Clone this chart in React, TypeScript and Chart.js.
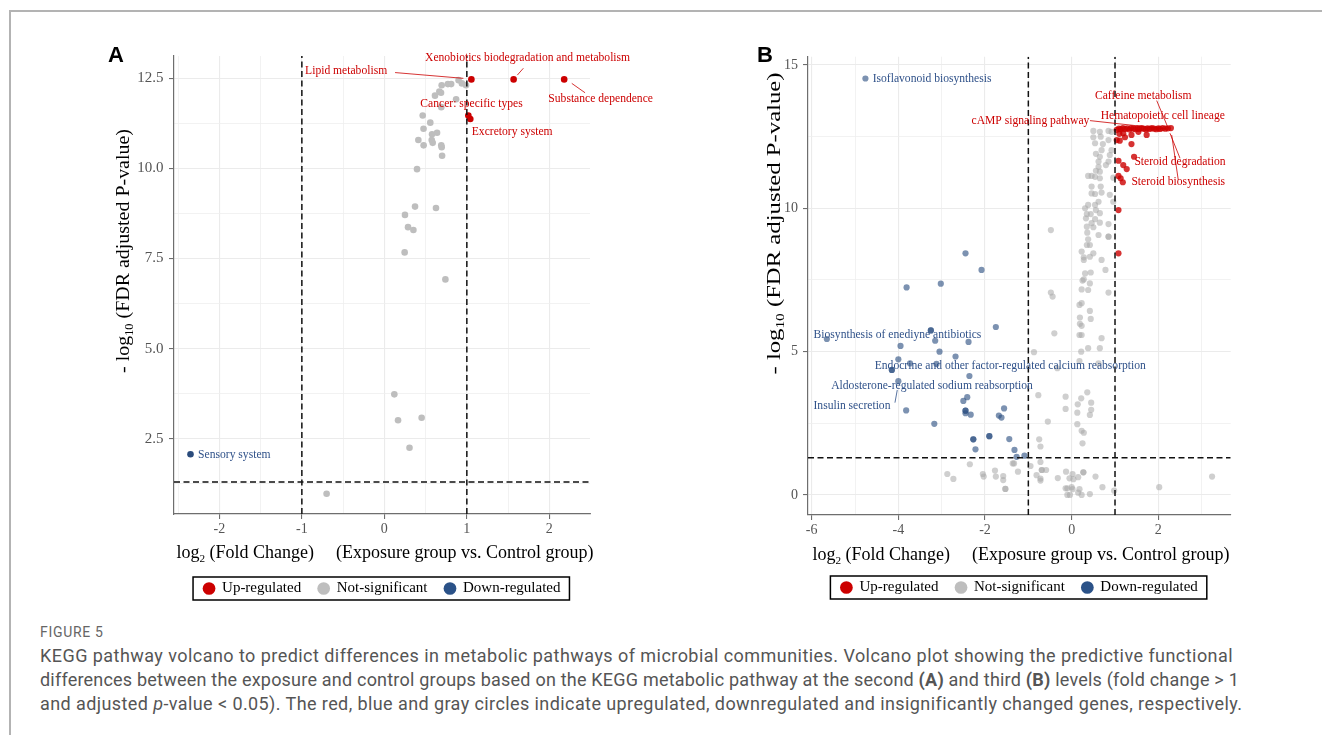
import React, { useEffect, useRef } from "react";
import { Chart, registerables } from "chart.js";

Chart.register(...registerables);

// ---------------- shared ----------------
const FC_THRESHOLDS = [-1, 1];
const P_THRESHOLD = 1.301; // -log10(0.05)
const LEGEND_LABELS = ["Up-regulated", "Not-significant", "Down-regulated"];
const LEGEND_COLORS = ["#cc0000", "#bebebe", "#2b5288"];

// ---------------- Panel A (KEGG level 2) ----------------
const A_UP_X = [1.055, 1.567, 2.18, 1.018, 1.042];
const A_UP_Y = [12.47, 12.47, 12.47, 11.47, 11.37];
const A_NS_X = [0.9, 0.94, 0.99, 0.695, 0.77, 0.81, 0.667, 0.614, 0.687, 0.87, 0.69, 0.465, 0.557, 0.475, 0.578, 0.639, 0.412, 0.574, 0.586, 0.476, 0.69, 0.695, 0.7, 0.396, 0.372, 0.626, 0.25, 0.287, 0.352, 0.246, 0.74, 0.121, 0.166, 0.452, 0.305, -0.7];
const A_NS_Y = [12.45, 12.36, 12.31, 12.31, 12.34, 12.34, 12.13, 12.02, 12.1, 11.92, 11.7, 11.47, 11.27, 11.1, 10.95, 10.99, 10.79, 10.79, 10.71, 10.64, 10.64, 10.59, 10.35, 9.98, 8.94, 8.9, 8.71, 8.37, 8.29, 7.67, 6.92, 3.73, 3.01, 3.08, 2.25, 0.97];
const A_DOWN_X = [-2.35];
const A_DOWN_Y = [2.07];

const A_X_RANGE = [-2.55, 2.493];
const A_Y_RANGE = [0.41, 13.12];
const A_X_GRID = [-2.5, -2, -1.5, -1, -0.5, 0, 0.5, 1, 1.5, 2];
const A_X_LABELS = [-2, -1, 0, 1, 2];
const A_Y_GRID = [1.25, 2.5, 3.75, 5, 6.25, 7.5, 8.75, 10, 11.25, 12.5];
const A_Y_LABELS = [2.5, 5, 7.5, 10, 12.5];

const A_LABELS = [
  { text: "Xenobiotics biodegradation and metabolism", x: 1.736, y: 13.06, align: "center", kind: "up", seg: [1.685, 12.78, 1.612, 12.59] },
  { text: "Lipid metabolism", x: -0.961, y: 12.71, align: "left", kind: "up", seg: [0.13, 12.66, 0.958, 12.5] },
  { text: "Substance dependence", x: 1.988, y: 11.93, align: "left", kind: "up", seg: [2.272, 12.36, 2.433, 12.1] },
  { text: "Cancer: specific types", x: 1.057, y: 11.8, align: "center", kind: "up" },
  { text: "Excretory system", x: 1.06, y: 11.02, align: "left", kind: "up" },
  { text: "Sensory system", x: -2.258, y: 2.04, align: "left", kind: "down" },
];

// ---------------- Panel B (KEGG level 3) ----------------
const B_UP_X = [1.04, 1.09, 1.13, 1.18, 1.23, 1.28, 1.33, 1.37, 1.42, 1.47, 1.52, 1.56, 1.61, 1.66, 1.71, 1.75, 1.8, 1.85, 1.9, 1.95, 2.0, 2.04, 2.1, 2.16, 2.22, 2.29,
  1.1, 1.19, 1.38, 1.54, 1.73, 1.04, 1.11, 1.23, 1.38, 1.08, 1.19, 1.27, 1.44, 1.08, 1.13, 1.18, 1.08, 1.08];
const B_UP_Y = [12.74, 12.78, 12.76, 12.8, 12.77, 12.79, 12.75, 12.8, 12.78, 12.76, 12.79, 12.77, 12.8, 12.78, 12.75, 12.79, 12.77, 12.8, 12.78, 12.76, 12.79, 12.77, 12.8, 12.78, 12.79, 12.8,
  12.6, 12.62, 12.56, 12.67, 12.56, 12.38, 12.36, 12.48, 12.24, 11.66, 11.51, 11.37, 11.8, 11.13, 11.05, 10.91, 9.94, 8.43];
const B_NS_X = [0.5, 0.65, 0.85, 0.92, 0.5, 0.67, 0.85, 0.54, 0.72, 0.69, 0.92, 0.56, 0.65, 0.88, 0.62, 0.85, 0.62, 0.79, 0.56, 0.65,
  0.38, 0.46, 0.54, 0.65, 0.96, 0.46, 0.67, 0.46, 0.54, 0.69, 0.88, 0.62, 0.54, 0.38, 0.96, 0.31, 0.56, 0.35, 0.44, 0.65,
  0.33, 0.54, 0.46, 0.65, 0.85, 0.35, 0.5, 0.36, 0.62, 0.85, 0.85, -0.48, 0.38, 0.35, 0.42, 0.23, 0.5, 0.28, 0.28, 0.42,
  0.69, 0.78, 0.44, 0.31, 0.25, 0.28, 0.42, 0.23, 0.38, -0.48, -0.44, 0.85, 0.23, 0.18, 0.42, 0.19, 0.44, 0.19, 0.23, -0.4,
  0.18, 0.23, 0.69, -0.87, 0.38, 0.65, 0.22, 0.18, 0.62, -0.33,
  -0.77, -0.14, 0.22, 0.36, 0.14, 0.45, -0.14, 0.13, 0.45, 0.42, -0.55, 0.13, 0.23, 0.28, 0.25, -0.75, -0.72, -2.35, -2.87, -2.73,
  -2.05, -2.03, -1.77, -1.75, -1.58, -1.58, -1.53, -1.53, -1.36, -1.33, -1.24, -0.95, -0.72, -0.69, -0.69, -0.59, -0.81, -0.72, -0.72, -0.32,
  -0.13, -0.05, 0.02, 0.04, 0.15, 0.27, 0.27, 0.55, -0.14, -0.1, 0.0, 0.02, 0.18, -0.1, -0.04, 0.15, 0.23, 0.42, 0.71, 0.98, 2.02, 3.24];
const B_NS_Y = [12.7, 12.67, 12.7, 12.67, 12.48, 12.5, 12.38, 12.27, 12.24, 12.03, 12.03, 11.9, 11.8, 11.86, 11.63, 11.63, 11.45, 11.51, 11.31, 11.28,
  11.13, 11.13, 11.1, 11.05, 11.07, 10.76, 10.76, 10.52, 10.5, 10.55, 10.47, 10.23, 10.12, 10.12, 10.23, 10.0, 9.94, 9.8, 9.8, 9.83,
  9.65, 9.62, 9.48, 9.5, 9.45, 9.36, 9.34, 9.15, 9.07, 9.01, 9.01, 9.24, 8.92, 8.72, 8.72, 8.49, 8.43, 8.29, 8.2, 8.31,
  8.2, 7.85, 7.76, 7.73, 7.48, 7.52, 7.38, 7.17, 7.15, 7.06, 6.92, 7.06, 6.69, 6.63, 6.42, 6.19, 6.14, 5.97, 5.9, 5.64,
  5.58, 5.58, 5.47, 4.98, 5.12, 5.12, 5.0, 4.67, 4.59, 4.42,
  3.48, 3.43, 3.37, 3.58, 3.16, 3.22, 3.0, 2.87, 2.97, 2.79, 2.56, 2.47, 2.24, 2.17, 1.8, 1.94, 1.69, 1.07, 0.73, 0.56,
  0.73, 0.64, 0.85, 0.64, 0.66, 0.52, 0.21, 0.21, 1.1, 1.1, 0.81, 1.01, 1.15, 0.87, 0.87, 0.87, 0.69, 0.57, 0.5, 0.59,
  0.81, 0.58, 0.73, 0.55, 0.62, 0.79, 0.79, 0.64, 0.23, 0.23, 0.27, 0.2, 0.2, 0.0, 0.0, 0.08, 0.0, 0.03, 0.27, 0.15, 0.27, 0.64];
const B_DOWN_X = [-4.76, -2.45, -2.08, -3.81, -3.02, -1.75, -3.25, -3.25, -5.65, -3.95, -3.15, -2.38, -3.05, -2.68, -4.0, -3.73, -3.12, -4.15, -4.15, -2.36,
  -4.0, -3.82, -2.5, -2.41, -2.45, -2.45, -2.45, -2.33, -1.56, -1.68, -1.62, -3.17, -2.27, -2.27, -1.9, -1.9, -1.44, -2.22, -1.32, -1.27, -1.09];
const B_DOWN_Y = [14.53, 8.43, 7.85, 7.24, 7.37, 5.86, 5.74, 5.74, 5.44, 5.2, 5.38, 5.34, 5.0, 4.83, 4.73, 4.59, 4.57, 4.36, 4.36, 4.15,
  3.97, 2.95, 3.28, 3.41, 2.94, 2.94, 2.85, 2.8, 3.02, 2.77, 2.7, 2.48, 1.94, 1.94, 2.05, 2.05, 1.95, 1.59, 1.57, 1.33, 1.37];

const B_X_RANGE = [-6.085, 3.67];
const B_Y_RANGE = [-0.7, 15.29];
const B_X_GRID = [-6, -5, -4, -3, -2, -1, 0, 1, 2, 3];
const B_X_LABELS = [-6, -4, -2, 0, 2];
const B_Y_GRID = [0, 2.5, 5, 7.5, 10, 12.5, 15];
const B_Y_LABELS = [0, 5, 10, 15];

const B_LABELS = [
  { text: "Isoflavonoid biosynthesis", x: -4.593, y: 14.5, align: "left", kind: "down" },
  { text: "Caffeine metabolism", x: 1.652, y: 13.92, align: "center", kind: "up", seg: [1.962, 13.76, 2.229, 12.79] },
  { text: "Hematopoietic cell lineage", x: 2.102, y: 13.22, align: "center", kind: "up" },
  { text: "cAMP signaling pathway", x: -0.951, y: 13.05, align: "center", kind: "up", seg: [0.422, 13.06, 2.229, 12.76] },
  { text: "Steroid degradation", x: 2.499, y: 11.63, align: "center", kind: "up", seg: [2.269, 12.62, 2.499, 11.75] },
  { text: "Steroid biosynthesis", x: 2.46, y: 10.91, align: "center", kind: "up", seg: [2.308, 12.56, 2.46, 10.99] },
  { text: "Biosynthesis of enediyne antibiotics", x: -4.02, y: 5.58, align: "center", kind: "down" },
  { text: "Endocrine and other factor-regulated calcium reabsorption", x: -1.417, y: 4.51, align: "center", kind: "down" },
  { text: "Aldosterone-regulated sodium reabsorption", x: -3.224, y: 3.8, align: "center", kind: "down" },
  { text: "Insulin secretion", x: -5.07, y: 3.1, align: "center", kind: "down", seg: [-4.078, 3.22, -4.025, 3.66] },
];

// ---------------- styling ----------------
const SERIF = '"Liberation Serif", "Times New Roman", serif';
const SANS = '"Liberation Sans", Arial, sans-serif';
const AXIS_COLOR = "#6e6e6e";
const TICK_COLOR = "#555555";
const GRID_MAJOR = "#ebebeb";
const GRID_MINOR = "#efefef";
const UP_TEXT = "#cc0000";
const DOWN_TEXT = "#2f5189";

type Part = { t?: string; sub?: boolean; gap?: number };

const X_TITLE: Part[] = [
  { t: "log" }, { t: "2", sub: true }, { t: " (Fold Change)" }, { gap: 22 }, { t: "(Exposure group vs. Control group)" },
];
const Y_TITLE: Part[] = [{ t: "- log" }, { t: "10", sub: true }, { t: " (FDR adjusted P-value)" }];

function drawRich(ctx: CanvasRenderingContext2D, parts: Part[], cx: number, cy: number, size: number, rotate: boolean, stretch = 1) {
  ctx.save();
  ctx.translate(cx, cy);
  if (rotate) ctx.rotate(-Math.PI / 2);
  if (stretch !== 1) ctx.scale(stretch, 1);
  const fontFor = (p: Part) => `${p.sub ? size * 0.62 : size}px ${SERIF}`;
  const widths = parts.map((p) => {
    if (p.gap) return p.gap;
    ctx.font = fontFor(p);
    return ctx.measureText(p.t || "").width;
  });
  const total = widths.reduce((a, b) => a + b, 0);
  let x = -total / 2;
  ctx.textAlign = "left";
  ctx.textBaseline = "alphabetic";
  ctx.fillStyle = "#000";
  const base = size * 0.33;
  parts.forEach((p, i) => {
    if (p.t) {
      ctx.font = fontFor(p);
      ctx.fillText(p.t, x, base + (p.sub ? size * 0.2 : 0));
    }
    x += widths[i];
  });
  ctx.restore();
}

type Panel = any;

const PANEL_A: Panel = {
  letter: "A", left: 100, top: 40, width: 580, height: 566,
  padTop: 16, padRight: 90, yAxisW: 74, xAxisH: 50,
  xRange: A_X_RANGE, yRange: A_Y_RANGE,
  xGrid: A_X_GRID, xLabels: A_X_LABELS, yGrid: A_Y_GRID, yLabels: A_Y_LABELS,
  yFmt: (v: number) => v.toFixed(1), yTickSize: 15, yTickPad: 5.5,
  yTitle: { x: 23, y: 211, size: 19, stretch: 1.05 }, xTitle: { x: 285, y: 512, size: 18 },
  letterPos: { x: 8, y: 22 },
  up: [A_UP_X, A_UP_Y], ns: [A_NS_X, A_NS_Y], down: [A_DOWN_X, A_DOWN_Y],
  colors: { up: "#cc0000", ns: "#bebebe", down: "#2a4b7c" }, radius: 3.3,
  labels: A_LABELS,
};

const PANEL_B: Panel = {
  letter: "B", left: 750, top: 40, width: 560, height: 565,
  padTop: 16.7, padRight: 79.3, yAxisW: 58, xAxisH: 48,
  xRange: B_X_RANGE, yRange: B_Y_RANGE,
  xGrid: B_X_GRID, xLabels: B_X_LABELS, yGrid: B_Y_GRID, yLabels: B_Y_LABELS,
  yFmt: (v: number) => String(v), yTickSize: 14, yTickPad: 5,
  yTitle: { x: 24, y: 183.5, size: 19, stretch: 1.3 }, xTitle: { x: 271, y: 514, size: 18 },
  letterPos: { x: 7, y: 22 },
  up: [B_UP_X, B_UP_Y], ns: [B_NS_X, B_NS_Y], down: [B_DOWN_X, B_DOWN_Y],
  colors: { up: "rgba(204,0,0,0.8)", ns: "rgba(168,168,168,0.55)", down: "rgba(43,79,129,0.62)" }, radius: 3.1,
  labels: B_LABELS,
};

const pts = (xs: number[], ys: number[]) => xs.map((x, i) => ({ x, y: ys[i] }));

function makeDecor(p: Panel) {
  return {
    id: "decor" + p.letter,
    afterDatasetsDraw(chart: any) {
      const { ctx } = chart;
      const xs = chart.scales.x;
      const ys = chart.scales.y;
      ctx.save();
      for (const l of p.labels) {
        const col = l.kind === "up" ? UP_TEXT : DOWN_TEXT;
        if (l.seg) {
          ctx.beginPath();
          ctx.moveTo(xs.getPixelForValue(l.seg[0]), ys.getPixelForValue(l.seg[1]));
          ctx.lineTo(xs.getPixelForValue(l.seg[2]), ys.getPixelForValue(l.seg[3]));
          ctx.strokeStyle = col;
          ctx.lineWidth = 0.8;
          ctx.stroke();
        }
        ctx.font = `11.6px ${SERIF}`;
        ctx.fillStyle = col;
        ctx.textAlign = l.align;
        ctx.textBaseline = "middle";
        ctx.fillText(l.text, xs.getPixelForValue(l.x), ys.getPixelForValue(l.y));
      }
      ctx.restore();
    },
    afterDraw(chart: any) {
      const { ctx } = chart;
      drawRich(ctx, X_TITLE, p.xTitle.x, p.xTitle.y, p.xTitle.size, false);
      drawRich(ctx, Y_TITLE, p.yTitle.x, p.yTitle.y, p.yTitle.size, true, p.yTitle.stretch);
      ctx.save();
      ctx.font = `bold 22px ${SANS}`;
      ctx.fillStyle = "#000";
      ctx.textAlign = "left";
      ctx.textBaseline = "alphabetic";
      ctx.fillText(p.letter, p.letterPos.x, p.letterPos.y);
      const lg = chart.legend;
      if (lg && lg.legendHitBoxes && lg.legendHitBoxes.length) {
        const hb = lg.legendHitBoxes;
        const last = hb[hb.length - 1];
        const left = hb[0].left - 10.5;
        const right = last.left + last.width + 9;
        const cy = hb[0].top + hb[0].height / 2;
        ctx.strokeStyle = "#000";
        ctx.lineWidth = 1.5;
        ctx.strokeRect(left, cy - 11.5, right - left, 23);
      }
      ctx.restore();
    },
  };
}

function buildConfig(p: Panel): any {
  const [xMin, xMax] = p.xRange;
  const [yMin, yMax] = p.yRange;
  const dash = (data: any[]) => ({
    type: "line", label: "", data, borderColor: "#111", borderWidth: 1.5, borderDash: [6, 3.5],
    pointRadius: 0, showLine: true, fill: false, order: 0,
  });
  const scatter = (label: string, xy: number[][], color: string, order: number) => ({
    type: "scatter", label, data: pts(xy[0], xy[1]), backgroundColor: color, borderWidth: 0,
    pointRadius: p.radius, pointHoverRadius: p.radius, order,
  });
  const isMajor = (labels: number[]) => (c: any) => c.tick && labels.includes(c.tick.value);
  const xMaj = isMajor(p.xLabels);
  const yMaj = isMajor(p.yLabels);
  return {
    type: "scatter",
    data: {
      datasets: [
        scatter(LEGEND_LABELS[0], p.up, p.colors.up, 1),
        scatter(LEGEND_LABELS[1], p.ns, p.colors.ns, 2),
        scatter(LEGEND_LABELS[2], p.down, p.colors.down, 3),
        dash([{ x: FC_THRESHOLDS[0], y: yMin }, { x: FC_THRESHOLDS[0], y: yMax }]),
        dash([{ x: FC_THRESHOLDS[1], y: yMin }, { x: FC_THRESHOLDS[1], y: yMax }]),
        dash([{ x: xMin, y: P_THRESHOLD }, { x: xMax, y: P_THRESHOLD }]),
      ],
    },
    options: {
      responsive: false,
      animation: false,
      events: [],
      layout: { padding: { top: p.padTop, right: p.padRight, left: 0, bottom: 0 } },
      plugins: {
        tooltip: { enabled: false },
        title: { display: false },
        legend: {
          display: true,
          position: "bottom",
          fullSize: false,
          align: "center",
          labels: {
            usePointStyle: true,
            pointStyle: "circle",
            boxWidth: 11,
            boxHeight: 9,
            padding: 17,
            color: "#000",
            font: { family: SERIF, size: 15 },
            generateLabels: (chart: any) =>
              Chart.defaults.plugins.legend.labels.generateLabels(chart).map((it: any) => ({
                ...it,
                fillStyle: LEGEND_COLORS[LEGEND_LABELS.indexOf(it.text)] || it.fillStyle,
                strokeStyle: "rgba(0,0,0,0)",
                lineWidth: 0,
              })),
            filter: (it: any) => it.text !== "",
          },
        },
      },
      scales: {
        x: {
          type: "linear", position: "bottom", min: xMin, max: xMax,
          afterBuildTicks: (s: any) => { s.ticks = p.xGrid.map((v: number) => ({ value: v })); },
          afterFit: (s: any) => { s.height = p.xAxisH; },
          ticks: {
            autoSkip: false, maxRotation: 0, minRotation: 0, padding: 1.5, color: TICK_COLOR,
            font: { family: SERIF, size: 14 },
            callback: (v: number) => (p.xLabels.includes(v) ? String(v) : ""),
          },
          grid: {
            color: (c: any) => (xMaj(c) ? GRID_MAJOR : GRID_MINOR),
            lineWidth: (c: any) => (xMaj(c) ? 1.1 : 0.8),
            tickColor: (c: any) => (xMaj(c) ? AXIS_COLOR : "rgba(0,0,0,0)"),
            tickLength: 5, tickWidth: 1.1,
          },
          border: { display: true, color: AXIS_COLOR, width: 1.2 },
          title: { display: false },
        },
        y: {
          type: "linear", position: "left", min: yMin, max: yMax,
          afterBuildTicks: (s: any) => { s.ticks = p.yGrid.map((v: number) => ({ value: v })); },
          afterFit: (s: any) => { s.width = p.yAxisW; },
          ticks: {
            autoSkip: false, padding: p.yTickPad, color: TICK_COLOR,
            font: { family: SERIF, size: p.yTickSize },
            callback: (v: number) => (p.yLabels.includes(v) ? p.yFmt(v) : ""),
          },
          grid: {
            color: (c: any) => (yMaj(c) ? GRID_MAJOR : GRID_MINOR),
            lineWidth: (c: any) => (yMaj(c) ? 1.1 : 0.8),
            tickColor: (c: any) => (yMaj(c) ? AXIS_COLOR : "rgba(0,0,0,0)"),
            tickLength: 5, tickWidth: 1.1,
          },
          border: { display: true, color: AXIS_COLOR, width: 1.2 },
          title: { display: false },
        },
      },
    },
    plugins: [makeDecor(p)],
  };
}

function VolcanoPanel({ panel }: { panel: Panel }) {
  const ref = useRef<HTMLCanvasElement>(null);
  useEffect(() => {
    if (!ref.current) return;
    const chart = new Chart(ref.current, buildConfig(panel));
    return () => chart.destroy();
  }, [panel]);
  return (
    <canvas
      ref={ref}
      width={panel.width}
      height={panel.height}
      style={{ position: "absolute", left: panel.left, top: panel.top, width: panel.width, height: panel.height }}
    />
  );
}

const CAPTION_FONT = 'Roboto, "Liberation Sans", Arial, sans-serif';

export default function App() {
  return (
    <div style={{ position: "absolute", left: 0, top: 0, width: 1322, height: 735, overflow: "hidden", background: "#fff" }}>
      <div style={{ position: "absolute", left: 9, top: 10, width: 1313, height: 725, borderTop: "2px solid #b3b3b3", borderLeft: "2px solid #b3b3b3", boxSizing: "border-box" }} />
      <VolcanoPanel panel={PANEL_A} />
      <VolcanoPanel panel={PANEL_B} />
      <div style={{ position: "absolute", left: 40, top: 624, fontFamily: CAPTION_FONT, fontSize: 14, lineHeight: "16px", letterSpacing: "0.7px", color: "#666", whiteSpace: "nowrap" }}>
        FIGURE 5
      </div>
      <div style={{ position: "absolute", left: 40, top: 644, fontFamily: CAPTION_FONT, fontSize: 18, lineHeight: "24px", color: "#555", whiteSpace: "nowrap" }}>
        <div style={{ letterSpacing: "0.45px" }}>KEGG pathway volcano to predict differences in metabolic pathways of microbial communities. Volcano plot showing the predictive functional</div>
        <div style={{ letterSpacing: "0.21px" }}>differences between the exposure and control groups based on the KEGG metabolic pathway at the second <b>(A)</b> and third <b>(B)</b> levels (fold change &gt; 1</div>
        <div style={{ letterSpacing: "0.41px" }}>and adjusted <i>p</i>-value &lt; 0.05). The red, blue and gray circles indicate upregulated, downregulated and insignificantly changed genes, respectively.</div>
      </div>
    </div>
  );
}
